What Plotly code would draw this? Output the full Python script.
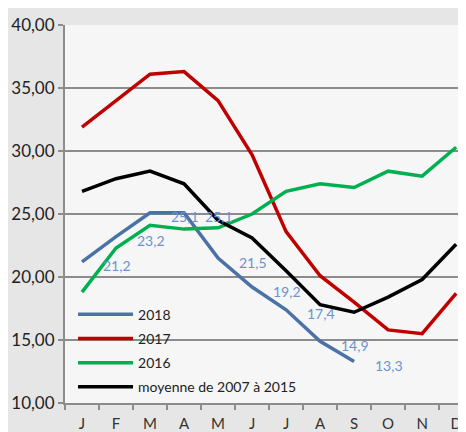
import plotly.graph_objects as go

months = ["J", "F", "M", "A", "M", "J", "J", "A", "S", "O", "N", "D"]
y2018 = [21.2, 23.2, 25.1, 25.1, 21.5, 19.2, 17.4, 14.9, 13.3]
y2017 = [31.9, 34.0, 36.1, 36.3, 34.0, 29.7, 23.6, 20.1, 18.0, 15.8, 15.5, 18.7]
y2016 = [18.8, 22.3, 24.1, 23.8, 23.9, 25.0, 26.8, 27.4, 27.1, 28.4, 28.0, 30.3]
ymoy = [26.8, 27.8, 28.4, 27.4, 24.5, 23.1, 20.5, 17.8, 17.2, 18.4, 19.8, 22.6]
labels2018 = ["21,2", "23,2", "25,1", "25,1", "21,5", "19,2", "17,4", "14,9", "13,3"]

series = [
    ("2018", y2018, "#4a72a6"),
    ("2017", y2017, "#c00000"),
    ("2016", y2016, "#00b050"),
    ("moyenne de 2007 à 2015", ymoy, "#000000"),
]

FONT = "Lato"
fig = go.Figure()
for i, (name, vals, col) in enumerate(series):
    fig.add_trace(go.Scatter(
        x=list(range(len(vals))), y=vals, mode="lines", name=name,
        line=dict(color=col, width=3.5), legendgroup=str(i),
    ))

for i, (v, t) in enumerate(zip(y2018, labels2018)):
    fig.add_annotation(x=i, y=v, text=t, showarrow=False, xshift=35, yshift=-4,
                       font=dict(family=FONT, size=14, color="#6a93cf"))

fig.update_layout(
    width=458, height=424,
    margin=dict(l=57, r=0, t=17, b=27),
    paper_bgcolor="#e6e6e6",
    plot_bgcolor="#f6f6f6",
    separators=", ",
    font=dict(family=FONT, size=15, color="#222222"),
    showlegend=True,
    legend=dict(x=0.02, y=0.276, xanchor="left", yanchor="top",
                bgcolor="rgba(0,0,0,0)", font=dict(family=FONT, size=14, color="#222222"),
                traceorder="grouped", tracegroupgap=3, itemwidth=55),
    xaxis=dict(
        range=[-0.5, 11.29], tickvals=list(range(12)), ticktext=months,
        showgrid=False, ticks="", showline=True, linecolor="#8c8c8c", linewidth=2,
        zeroline=False, tickfont=dict(family=FONT, size=15, color="#333333"),
        ticklabelstandoff=6,
        minor=dict(tick0=-0.5, dtick=1, ticks="outside", ticklen=5, tickcolor="#8c8c8c", tickwidth=2),
    ),
    yaxis=dict(
        range=[10, 40], dtick=5, tickformat=".2f",
        showgrid=True, gridcolor="#8c8c8c", gridwidth=2,
        ticks="outside", ticklen=5, tickcolor="#8c8c8c", tickwidth=2,
        showline=True, linecolor="#8c8c8c", linewidth=2, zeroline=False,
        tickfont=dict(family=FONT, size=17, color="#222222"),
    ),
)

fig.write_html("out.html")
